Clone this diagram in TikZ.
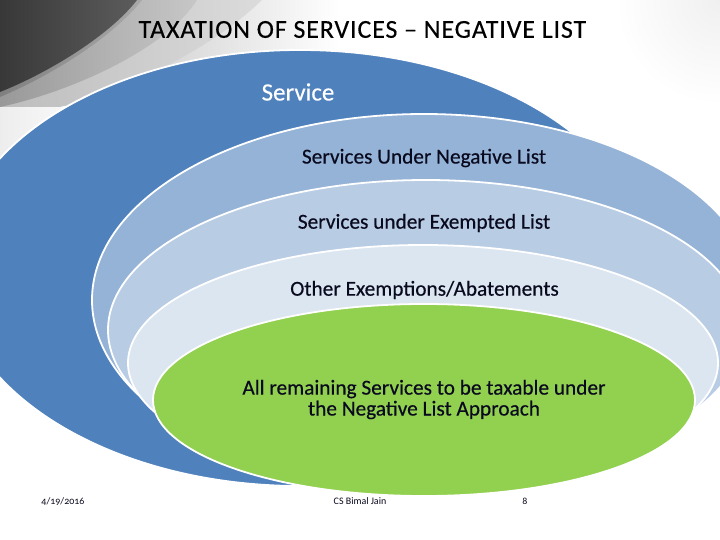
\documentclass[tikz,border=0pt]{standalone}
\usepackage{fontspec}
\setmainfont{Carlito}
\newfontfamily\semib[FakeBold=0.35]{Carlito}
\newfontfamily\oldnum[Numbers=OldStyle]{Carlito}
\definecolor{bluea}{HTML}{4F81BD}
\definecolor{blueb}{HTML}{95B3D7}
\definecolor{bluec}{HTML}{B8CCE4}
\definecolor{blued}{HTML}{DCE6F1}
\definecolor{greenf}{HTML}{92D050}
\definecolor{darktxt}{HTML}{0A0A1E}
\tikzset{
  layer/.style={draw=white,line width=1.8pt},
  lbl/.style={inner sep=0pt,text=darktxt,font=\semib\fontsize{21.4}{21}\selectfont,align=center},
  foot/.style={inner sep=0pt,text=darktxt,font=\oldnum\fontsize{10}{12}\selectfont}
}
\begin{document}
\begin{tikzpicture}[x=1bp,y=-1bp]
\useasboundingbox (0,0) rectangle (720,540);
\fill[white] (0,0) rectangle (720,540);
% background swoosh
\begin{scope}
\clip (0,0) rectangle (720,107);
\shade[left color=black!18,right color=white] (140,0) rectangle (340,107);
\fill[black!18] (0,0) rectangle (140,107);
\end{scope}
\begin{scope}
\clip (620,0) rectangle (720,110);
\shade[inner color=black!6,outer color=white] (720,0) circle (105);
\end{scope}
\shade[left color=black!7,right color=black!2] (0,107) rectangle (75,170);
\begin{scope}
\clip (0,0) rectangle (330,107);
\shade[left color=black!26,right color=black!14] (0,107) -- (0,0) -- (262,0) .. controls (205,55) and (120,90) .. (60,107) -- cycle;
\shade[left color=black!40,right color=black!22] (0,107) -- (0,0) -- (197,0) .. controls (165,50) and (70,92) .. (0,107) -- cycle;
\shade[shading angle=120,left color=black!50,right color=black!34] (0,97) -- (0,0) -- (142,0) .. controls (112,38) and (50,76) .. (0,97) -- cycle;
\shade[left color=black!78,right color=black!64] (0,92) -- (0,0) -- (137,0) .. controls (110,35) and (50,72) .. (0,92) -- cycle;
\end{scope}
% layers
\path[fill=bluea,layer] (300,268) ellipse [x radius=347,y radius=218];
\path[fill=blueb,layer] (424,300) ellipse [x radius=332,y radius=186];
\path[fill=bluec,layer] (426,330) ellipse [x radius=318,y radius=150];
\path[fill=blued,layer] (423,363) ellipse [x radius=295,y radius=118];
\path[fill=greenf,layer] (424,400) ellipse [x radius=271,y radius=96];
% text
\node[inner sep=0pt,text=black,font=\semib\fontsize{26}{28}\selectfont\addfontfeature{LetterSpace=3.5}] (title) at (362.5,29.5) {TAXATION OF SERVICES – NEGATIVE LIST};
\node[inner sep=0pt,text=white,font=\semib\fontsize{25}{28}\selectfont] (svc) at (298,92) {Service};
\node[lbl] (neg) at (424,158) {Services Under Negative List};
\node[lbl] (exm) at (424,223) {Services under Exempted List};
\node[lbl] (oth) at (424.5,290) {Other Exemptions/Abatements};
\node[lbl] (all) at (424,399.5) {All remaining Services to be taxable under\\the Negative List Approach};
\node[foot] (date) at (63,501.5) {4/19/2016};
\node[foot] (auth) at (360,501.5) {CS Bimal Jain};
\node[foot] (page) at (525,501.5) {8};
\end{tikzpicture}
\end{document}
